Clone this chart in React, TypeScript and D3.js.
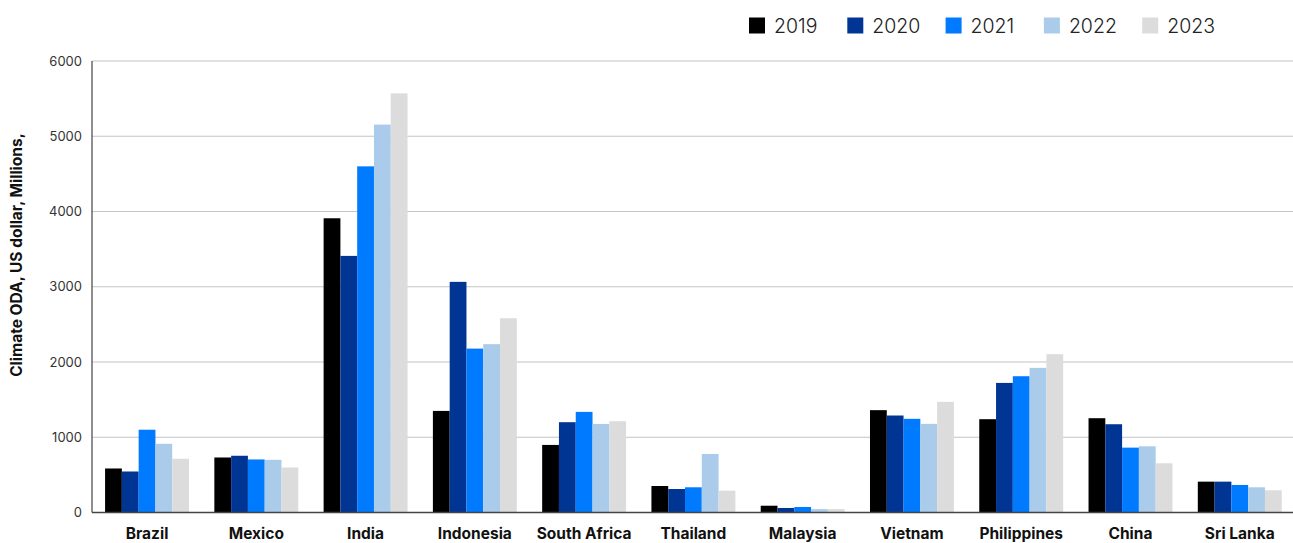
import React from "react";
import * as d3 from "d3";

const categories = ["Brazil", "Mexico", "India", "Indonesia", "South Africa", "Thailand", "Malaysia", "Vietnam", "Philippines", "China", "Sri Lanka"];
const years = ["2019", "2020", "2021", "2022", "2023"];
const v2019 = [585, 731, 3910, 1350, 898, 352, 90, 1360, 1240, 1253, 410];
const v2020 = [545, 754, 3410, 3065, 1200, 312, 60, 1289, 1722, 1173, 410];
const v2021 = [1100, 705, 4600, 2178, 1337, 335, 73, 1245, 1811, 862, 366];
const v2022 = [913, 700, 5155, 2237, 1177, 778, 45, 1178, 1922, 880, 335];
const v2023 = [714, 598, 5570, 2582, 1213, 290, 45, 1470, 2104, 654, 295];
const series = [v2019, v2020, v2021, v2022, v2023];
const colors = ["#000000", "#003594", "#007AFF", "#ABCBEA", "#DCDCDC"];
const yTicks = [0, 1000, 2000, 3000, 4000, 5000, 6000];

const W = 1293;
const H = 543;
const left = 92.4;
const right = 1294.4;
const top = 61;
const bottom = 512.5;
const font = "Inter, 'Noto Sans', sans-serif";

export default function App() {
  const x = d3.scaleBand<string>().domain(categories).range([left, right]).paddingInner(0.232).paddingOuter(0.116);
  const xi = d3.scaleBand<string>().domain(years).range([0, x.bandwidth()]);
  const y = d3.scaleLinear().domain([0, 6000]).range([bottom, top]);

  return (
    <svg width={W} height={H} style={{ position: "absolute", left: 0, top: 0, background: "#fff" }} fontFamily={font}>
      {yTicks.map((t) => (
        <g key={t}>
          {t > 0 && <line x1={92} x2={W} y1={y(t)} y2={y(t)} stroke="#c4c4c4" strokeWidth={1.2} />}
          <text x={82} y={y(t)} dy="0.35em" textAnchor="end" fontSize={13} fill="#333">{t}</text>
        </g>
      ))}
      {categories.map((c, i) => (
        <g key={c} transform={`translate(${x(c)},0)`}>
          {series.map((s, j) => (
            <rect key={j} x={xi(years[j])} y={y(s[i])} width={xi.bandwidth()} height={y(0) - y(s[i])} fill={colors[j]} />
          ))}
          <text x={x.bandwidth() / 2} y={539} textAnchor="middle" fontSize={15.5} fontWeight={700} fill="#111">{c}</text>
        </g>
      ))}
      <line x1={92} x2={92} y1={top} y2={bottom} stroke="#444" strokeWidth={1.2} />
      <line x1={92} x2={W} y1={bottom} y2={bottom} stroke="#444" strokeWidth={1.5} />
      <text transform={`translate(22,255) rotate(-90)`} textAnchor="middle" fontSize={15.5} fontWeight={700} fill="#111">
        Climate ODA, US dollar, Millions,
      </text>
      {years.map((yr, j) => (
        <g key={yr} transform={`translate(${749 + j * 98.3},17.5)`}>
          <rect width={16} height={16} fill={colors[j]} />
          <text x={25} y={8} dy="0.36em" fontSize={19.5} fontWeight={300} fill="#222">{yr}</text>
        </g>
      ))}
    </svg>
  );
}
